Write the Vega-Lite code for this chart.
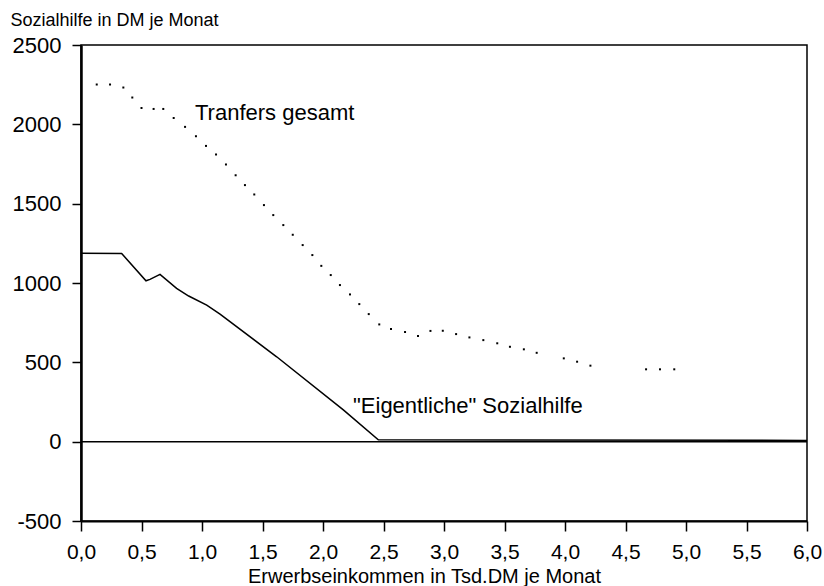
{
  "$schema": "https://vega.github.io/schema/vega-lite/v6.json",
  "width": 726,
  "height": 476,
  "autosize": {"type": "none"},
  "padding": {"left": 81, "top": 45, "right": 17, "bottom": 65},
  "background": "white",
  "config": {
    "view": {"stroke": "black", "strokeWidth": 1.5},
    "font": "Liberation Sans",
    "axis": {"grid": false, "labelColor": "black", "titleColor": "black", "domainColor": "black", "tickColor": "black", "labelFont": "Liberation Sans", "titleFont": "Liberation Sans", "titleFontWeight": "normal", "labelFlush": false, "labelOverlap": false}
  },
  "datasets": {
    "eigentlich": [
      {"x": 0.0, "y": 1188},
      {"x": 0.336, "y": 1186},
      {"x": 0.537, "y": 1014},
      {"x": 0.57, "y": 1023},
      {"x": 0.653, "y": 1054},
      {"x": 0.79, "y": 966},
      {"x": 0.89, "y": 918},
      {"x": 1.039, "y": 861},
      {"x": 1.149, "y": 804},
      {"x": 1.617, "y": 535},
      {"x": 2.168, "y": 200},
      {"x": 2.457, "y": 12},
      {"x": 6.0, "y": 8}
    ],
    "transfers": [
      {"x": 0.13, "y": 2251},
      {"x": 0.24, "y": 2251},
      {"x": 0.35, "y": 2232},
      {"x": 0.424, "y": 2169},
      {"x": 0.5, "y": 2103},
      {"x": 0.6, "y": 2097},
      {"x": 0.68, "y": 2097},
      {"x": 0.766, "y": 2040},
      {"x": 0.86, "y": 1984},
      {"x": 0.95, "y": 1925},
      {"x": 1.033, "y": 1864},
      {"x": 1.116, "y": 1810},
      {"x": 1.198, "y": 1747},
      {"x": 1.278, "y": 1679},
      {"x": 1.355, "y": 1617},
      {"x": 1.432, "y": 1558},
      {"x": 1.512, "y": 1491},
      {"x": 1.589, "y": 1428},
      {"x": 1.672, "y": 1365},
      {"x": 1.75, "y": 1304},
      {"x": 1.832, "y": 1239},
      {"x": 1.912, "y": 1176},
      {"x": 1.986, "y": 1108},
      {"x": 2.064, "y": 1050},
      {"x": 2.14, "y": 987},
      {"x": 2.223, "y": 928},
      {"x": 2.3, "y": 867},
      {"x": 2.378, "y": 804},
      {"x": 2.465, "y": 739},
      {"x": 2.562, "y": 710},
      {"x": 2.678, "y": 691},
      {"x": 2.785, "y": 666},
      {"x": 2.888, "y": 698},
      {"x": 2.99, "y": 699},
      {"x": 3.1, "y": 678},
      {"x": 3.21, "y": 657},
      {"x": 3.325, "y": 640},
      {"x": 3.44, "y": 620},
      {"x": 3.545, "y": 598},
      {"x": 3.66, "y": 582},
      {"x": 3.766, "y": 560},
      {"x": 3.99, "y": 525},
      {"x": 4.1, "y": 504},
      {"x": 4.21, "y": 479},
      {"x": 4.67, "y": 456},
      {"x": 4.785, "y": 456},
      {"x": 4.903, "y": 456}
    ],
    "labels": [
      {"x": 0.942, "y": 2072, "text": "Tranfers gesamt"},
      {"x": 2.248, "y": 222, "text": "\"Eigentliche\" Sozialhilfe"}
    ],
    "zero": [{"y": 0}]
  },
  "layer": [
    {
      "data": {"name": "zero"},
      "mark": {"type": "rule", "color": "black", "strokeWidth": 1.5},
      "encoding": {
        "y": {"field": "y", "type": "quantitative", "scale": {"domain": [-500, 2500], "nice": false, "zero": false},
          "axis": {"values": [-500, 0, 500, 1000, 1500, 2000, 2500], "labelExpr": "datum.value < 0 ? '-' + abs(datum.value) : '' + datum.value", "labelFontSize": 22, "tickSize": 9, "tickWidth": 1.5, "labelPadding": 11, "domainWidth": 2.5,
            "title": "Sozialhilfe in DM je Monat", "titleAngle": 0, "titleAlign": "left", "titleBaseline": "middle", "titleX": -71, "titleY": -25, "titleFontSize": 18}}
      }
    },
    {
      "data": {"name": "eigentlich"},
      "mark": {"type": "line", "color": "black", "strokeWidth": 1.5},
      "encoding": {
        "x": {"field": "x", "type": "quantitative", "scale": {"domain": [0, 6], "nice": false, "zero": false},
          "axis": {"values": [0, 0.5, 1, 1.5, 2, 2.5, 3, 3.5, 4, 4.5, 5, 5.5, 6], "labelExpr": "replace(format(datum.value, '.1f'), '.', ',')", "labelFontSize": 21, "tickSize": 10, "tickWidth": 1.5, "labelPadding": 10, "domainWidth": 2,
            "title": "Erwerbseinkommen in Tsd.DM je Monat", "titleFontSize": 20, "titleX": 343, "titleY": 55, "titleBaseline": "middle", "titleAlign": "center"}},
        "y": {"field": "y", "type": "quantitative"}
      }
    },
    {
      "data": {"name": "transfers"},
      "mark": {"type": "point", "shape": "square", "filled": true, "color": "black", "size": 4, "opacity": 1},
      "encoding": {
        "x": {"field": "x", "type": "quantitative"},
        "y": {"field": "y", "type": "quantitative"}
      }
    },
    {
      "data": {"name": "labels"},
      "mark": {"type": "text", "align": "left", "baseline": "middle", "fontSize": 22, "color": "black", "font": "Liberation Sans"},
      "encoding": {
        "x": {"field": "x", "type": "quantitative"},
        "y": {"field": "y", "type": "quantitative"},
        "text": {"field": "text"}
      }
    }
  ]
}
